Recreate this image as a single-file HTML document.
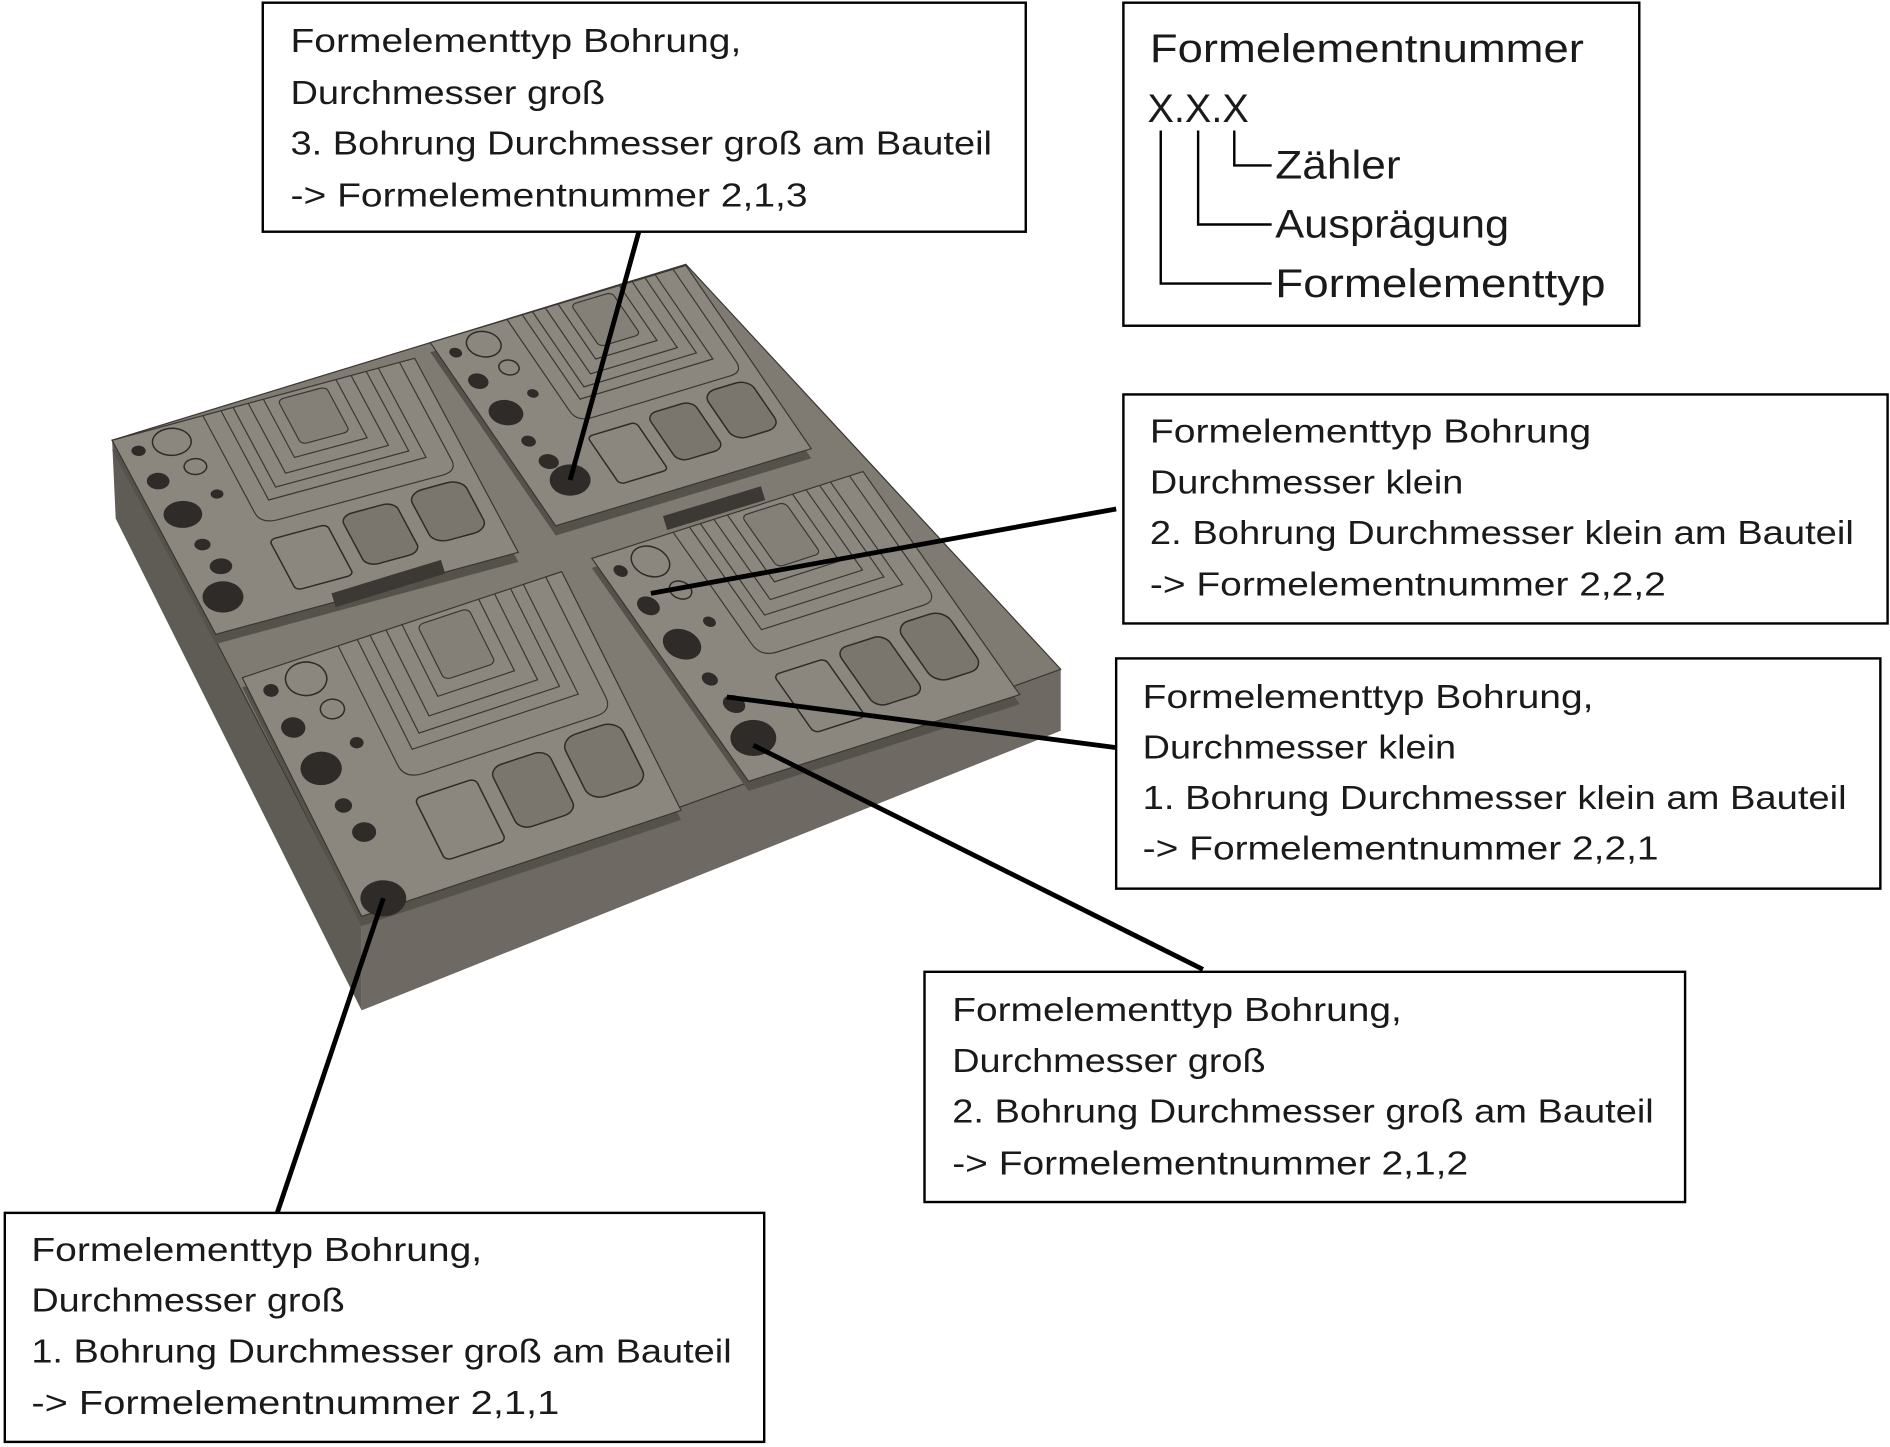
<!DOCTYPE html>
<html><head><meta charset="utf-8"><style>
html,body{margin:0;padding:0;background:#fff}
svg{display:block}
text{font-family:"Liberation Sans","DejaVu Sans",sans-serif;fill:#1a1a1a}
.ns{vector-effect:non-scaling-stroke}
</style></head><body>
<svg width="1890" height="1447" viewBox="0 0 1568 1200" xmlns="http://www.w3.org/2000/svg">
<defs>
<g id="plate">
<rect x="0" y="0" width="1" height="1" fill="#8c877e" stroke="#3a3733" stroke-width="1.2" class="ns"/>
<g fill="none" stroke="#3a3733" stroke-width="1.2">
<path class="ns" d="M0.3,0 L0.3,0.5 Q0.3,0.56 0.36,0.56 L0.9,0.56 Q0.95,0.56 0.95,0.5 L0.95,0"/>
<path class="ns" d="M0.36,0 L0.36,0.46 L0.88,0.46 L0.88,0"/>
<path class="ns" d="M0.4,0 L0.4,0.41 L0.84,0.41 L0.84,0"/>
<path class="ns" d="M0.45,0 L0.45,0.36 L0.79,0.36 L0.79,0"/>
<path class="ns" d="M0.5,0 L0.5,0.3 L0.74,0.3 L0.74,0"/>
</g>
<rect class="ns" x="0.54" y="0.02" width="0.16" height="0.23" rx="0.02" fill="#858077" stroke="#3a3733" stroke-width="1.2"/>
<g fill="#7a756d" stroke="#2e2b28" stroke-width="1.5">
<rect class="ns" x="0.3" y="0.64" width="0.19" height="0.26" rx="0.02" fill="#8c877e"/>
<rect class="ns" x="0.54" y="0.62" width="0.18" height="0.26" rx="0.04"/>
<rect class="ns" x="0.77" y="0.6" width="0.18" height="0.26" rx="0.05"/>
</g>
<g fill="#2e2b28">
<ellipse cx="0.06" cy="0.08" rx="0.022" ry="0.025"/>
<ellipse cx="0.07" cy="0.24" rx="0.035" ry="0.04"/>
<ellipse cx="0.09" cy="0.42" rx="0.06" ry="0.065"/>
<ellipse cx="0.22" cy="0.37" rx="0.02" ry="0.022"/>
<ellipse cx="0.1" cy="0.58" rx="0.025" ry="0.028"/>
<ellipse cx="0.12" cy="0.7" rx="0.035" ry="0.038"/>
</g>
<g fill="none" stroke="#2e2b28" stroke-width="1.5">
<ellipse class="ns" cx="0.17" cy="0.08" rx="0.06" ry="0.065"/>
<ellipse class="ns" cx="0.2" cy="0.22" rx="0.035" ry="0.038"/>
</g>
</g>
</defs>
<rect width="1568" height="1200" fill="#fff"/>
<!-- part body -->
<polygon points="93,365 300,765 300,838 96,430" fill="#5f5b55"/>
<polygon points="300,765 880,555 880,606 300,838" fill="#6e6962"/>
<polygon points="93,365 569,219 880,555 300,765" fill="#7f7a72" stroke="#3a3733" stroke-width="1"/>
<!-- plates with side strips -->
<g transform="translate(0,8)" fill="#55514b">
<polygon points="93,365 344,297 430,458 179,526"/>
<polygon points="357,284 569,220 673,372 461,436"/>
<polygon points="201,562 466,474 565,672 300,760"/>
<polygon points="491,463 716,391 846,576 621,648"/>
</g>
<use href="#plate" transform="matrix(251,-68,86,161,93,365)"/>
<use href="#plate" transform="matrix(212,-64,104,152,357,284)"/>
<use href="#plate" transform="matrix(265,-88,99,198,201,562)"/>
<use href="#plate" transform="matrix(225,-72,130,185,491,463)"/>
<rect x="275" y="492" width="95" height="12" fill="#3c3935" transform="rotate(-17 275 492)"/>
<rect x="550" y="428" width="85" height="12" fill="#3c3935" transform="rotate(-17 550 428)"/>
<g fill="#2e2b28">
<ellipse cx="473" cy="398" rx="17" ry="13"/><ellipse cx="318" cy="745" rx="19" ry="15"/>
<ellipse cx="625" cy="612" rx="19" ry="15"/><ellipse cx="185" cy="495" rx="17" ry="13"/>
</g>
<!-- leaders -->
<g stroke="#000" stroke-width="4">
<line x1="530" y1="192" x2="473" y2="398"/>
<line x1="926" y1="422" x2="540" y2="492"/>
<line x1="926" y1="620" x2="603" y2="578"/>
<line x1="998" y1="804" x2="625" y2="618"/>
<line x1="230" y1="1006" x2="318" y2="745"/>
</g>
<!-- boxes -->
<g fill="#fff" stroke="#000" stroke-width="2">
<rect x="218" y="2" width="633" height="190"/>
<rect x="932" y="2" width="428" height="268"/>
<rect x="932" y="327" width="634" height="190"/>
<rect x="926" y="546" width="634" height="191"/>
<rect x="767" y="806" width="631" height="191"/>
<rect x="4" y="1006" width="630" height="190"/>
</g>
<g font-size="28">
<text x="241" y="43" textLength="374" lengthAdjust="spacingAndGlyphs">Formelementtyp Bohrung,</text>
<text x="241" y="86" textLength="261" lengthAdjust="spacingAndGlyphs">Durchmesser groß</text>
<text x="241" y="128" textLength="582" lengthAdjust="spacingAndGlyphs">3. Bohrung Durchmesser groß am Bauteil</text>
<text x="241" y="171" textLength="429" lengthAdjust="spacingAndGlyphs">-&gt; Formelementnummer 2,1,3</text>
<text x="954" y="367" textLength="366" lengthAdjust="spacingAndGlyphs">Formelementtyp Bohrung</text>
<text x="954" y="409" textLength="260" lengthAdjust="spacingAndGlyphs">Durchmesser klein</text>
<text x="954" y="451" textLength="584" lengthAdjust="spacingAndGlyphs">2. Bohrung Durchmesser klein am Bauteil</text>
<text x="954" y="494" textLength="428" lengthAdjust="spacingAndGlyphs">-&gt; Formelementnummer 2,2,2</text>
<text x="948" y="587" textLength="374" lengthAdjust="spacingAndGlyphs">Formelementtyp Bohrung,</text>
<text x="948" y="629" textLength="260" lengthAdjust="spacingAndGlyphs">Durchmesser klein</text>
<text x="948" y="671" textLength="584" lengthAdjust="spacingAndGlyphs">1. Bohrung Durchmesser klein am Bauteil</text>
<text x="948" y="713" textLength="428" lengthAdjust="spacingAndGlyphs">-&gt; Formelementnummer 2,2,1</text>
<text x="790" y="847" textLength="373" lengthAdjust="spacingAndGlyphs">Formelementtyp Bohrung,</text>
<text x="790" y="889" textLength="260" lengthAdjust="spacingAndGlyphs">Durchmesser groß</text>
<text x="790" y="931" textLength="582" lengthAdjust="spacingAndGlyphs">2. Bohrung Durchmesser groß am Bauteil</text>
<text x="790" y="974" textLength="428" lengthAdjust="spacingAndGlyphs">-&gt; Formelementnummer 2,1,2</text>
<text x="26" y="1046" textLength="374" lengthAdjust="spacingAndGlyphs">Formelementtyp Bohrung,</text>
<text x="26" y="1088" textLength="260" lengthAdjust="spacingAndGlyphs">Durchmesser groß</text>
<text x="26" y="1130" textLength="581" lengthAdjust="spacingAndGlyphs">1. Bohrung Durchmesser groß am Bauteil</text>
<text x="26" y="1173" textLength="438" lengthAdjust="spacingAndGlyphs">-&gt; Formelementnummer 2,1,1</text>
</g>
<g font-size="33">
<text x="954" y="51" textLength="360" lengthAdjust="spacingAndGlyphs">Formelementnummer</text>
<text x="952" y="101" textLength="84" lengthAdjust="spacingAndGlyphs">X.X.X</text>
<text x="1058" y="148" textLength="104" lengthAdjust="spacingAndGlyphs">Zähler</text>
<text x="1058" y="197" textLength="194" lengthAdjust="spacingAndGlyphs">Ausprägung</text>
<text x="1058" y="246" textLength="274" lengthAdjust="spacingAndGlyphs">Formelementtyp</text>
</g>
<g fill="none" stroke="#000" stroke-width="2">
<polyline points="1024,108 1024,137 1055,137"/>
<polyline points="994,108 994,186 1055,186"/>
<polyline points="963,108 963,235 1055,235"/>
</g>
</svg>
</body></html>
